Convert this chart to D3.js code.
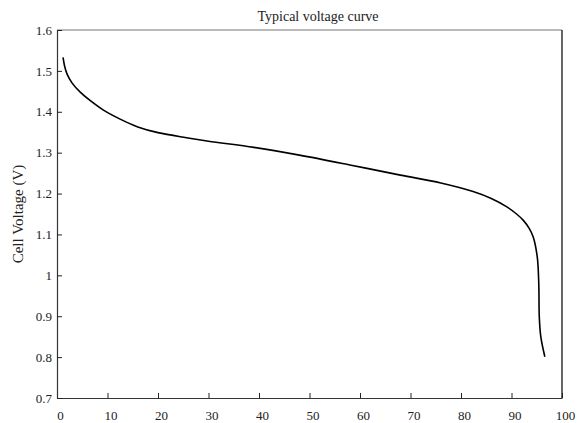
<html>
    <head>
        <meta charset="utf-8">
        <title>Typical voltage curve</title>
        <script src="https://d3js.org/d3.v7.min.js"></script>
        <style>
            body { margin: 0; background: #fff; }
            text { font-family: "Liberation Serif", "Times New Roman", serif; fill: #222; }
        </style>
    </head>
    <body>
        <div id="chart"></div>
        <script>
            // Données (capacité en %, tension en V)
            const capacity = [1.2, 1.5, 2.0, 3.0, 4.6, 6.6, 9.2, 12.5, 16, 20, 26, 30, 39, 48, 58, 68, 76, 82.4, 86, 89, 91, 92.3, 93.5, 94.3, 95.1, 95.4, 95.5, 95.8, 96.6];
            const voltage = [1.533, 1.512, 1.492, 1.470, 1.448, 1.427, 1.404, 1.382, 1.363, 1.349, 1.336, 1.328, 1.313, 1.294, 1.270, 1.245, 1.226, 1.205, 1.188, 1.168, 1.150, 1.135, 1.115, 1.094, 1.045, 0.980, 0.899, 0.850, 0.801];
            const xTicks = [0, 10, 20, 30, 40, 50, 60, 70, 80, 90, 100];
            const yTicks = [0.7, 0.8, 0.9, 1.0, 1.1, 1.2, 1.3, 1.4, 1.5, 1.6];

            const data = capacity.map((c, i) => ({ x: c, y: voltage[i] }));

            const margin = { top: 30, right: 16, bottom: 25, left: 57 },
                  width = 578 - margin.left - margin.right,
                  height = 423 - margin.top - margin.bottom;

            const svg = d3.select("#chart").append("svg")
                .attr("width", 578)
                .attr("height", 423);

            const g = svg.append("g")
                .attr("transform", `translate(${margin.left},${margin.top})`);

            const x = d3.scaleLinear().domain([0, 100]).range([0, width]);
            const y = d3.scaleLinear().domain([0.7, 1.6]).range([height, 0]);

            // cadre haut et droit
            g.append("line").attr("x1", 0).attr("x2", width).attr("y1", 0).attr("y2", 0)
                .attr("stroke", "#777").attr("stroke-width", 1);
            g.append("line").attr("x1", width).attr("x2", width).attr("y1", 0).attr("y2", height)
                .attr("stroke", "#000").attr("stroke-width", 1.2);

            // axes
            const xAxis = g.append("g")
                .attr("transform", `translate(0,${height})`)
                .call(d3.axisBottom(x).tickValues(xTicks).tickSizeInner(-5).tickSizeOuter(0).tickPadding(13).tickFormat(d3.format("d")));
            const yAxis = g.append("g")
                .call(d3.axisLeft(y).tickValues(yTicks).tickSizeInner(-5).tickSizeOuter(0).tickPadding(5).tickFormat(d => String(+d.toFixed(1))));

            [xAxis, yAxis].forEach(a => {
                a.select(".domain").attr("stroke", "#333").attr("stroke-width", 1.2);
                a.selectAll(".tick line").attr("stroke", "#222");
                a.selectAll("text").style("font-size", "13px").style("font-family", "'Liberation Serif', serif").attr("fill", "#222");
            });
            xAxis.selectAll(".tick text").attr("dx", "3px");

            // courbe
            const line = d3.line()
                .x(d => x(d.x))
                .y(d => y(d.y))
                .curve(d3.curveCatmullRom.alpha(0.5));

            g.append("path")
                .datum(data)
                .attr("fill", "none")
                .attr("stroke", "#000")
                .attr("stroke-width", 1.6)
                .attr("d", line);

            // titres
            svg.append("text")
                .attr("x", 318)
                .attr("y", 21)
                .attr("text-anchor", "middle")
                .style("font-size", "14px")
                .text("Typical voltage curve");

            svg.append("text")
                .attr("transform", "translate(23,214) rotate(-90)")
                .attr("text-anchor", "middle")
                .style("font-size", "15px")
                .text("Cell Voltage (V)");
        </script>
    </body>
</html>
